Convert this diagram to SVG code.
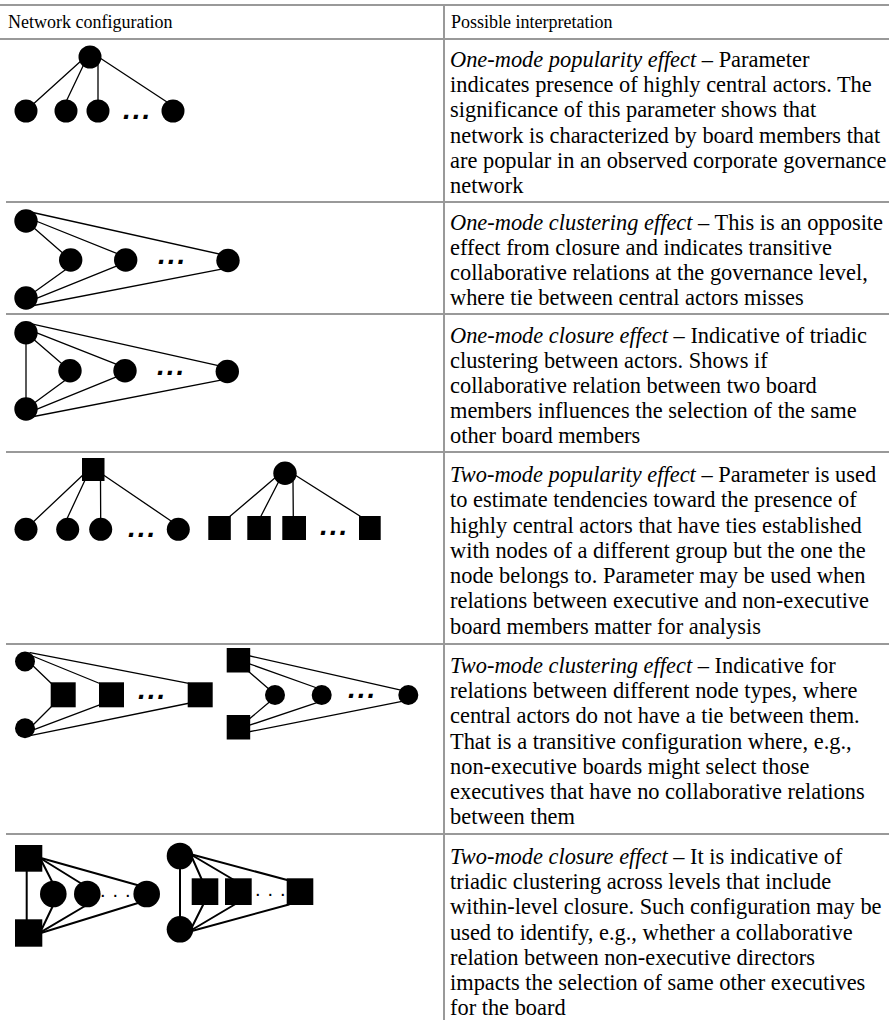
<svg xmlns="http://www.w3.org/2000/svg" width="889" height="1022" viewBox="0 0 889 1022">
  <style>
    .rule { stroke: #999; stroke-width: 2; fill: none; }
    .edge { stroke: #000; stroke-width: 1.3; fill: none; stroke-linecap: round; }
    .edge.thick { stroke-width: 2; }
    .node { fill: #000; }
    .head { font-family: "Liberation Serif", "Times New Roman", serif; font-size: 18px; fill: #000; }
    .txt { font-family: "Liberation Serif", "Times New Roman", serif; font-size: 22.4px; fill: #000; }
    .em { font-style: italic; }
    .dots { font-family: "Liberation Sans", Arial, sans-serif; font-size: 28px; font-weight: bold; font-style: italic; letter-spacing: 2px; fill: #000; }
    .dots.fine { font-size: 20px; font-weight: normal; font-style: normal; letter-spacing: 7px; }
  </style>

  <!-- table rules -->
  <g id="table">
    <line class="rule" x1="0" y1="5" x2="889" y2="5"/>
    <line class="rule" x1="0" y1="39" x2="889" y2="39"/>
    <line class="rule" x1="6" y1="202" x2="889" y2="202"/>
    <line class="rule" x1="6" y1="314" x2="889" y2="314"/>
    <line class="rule" x1="6" y1="452" x2="889" y2="452"/>
    <line class="rule" x1="6" y1="644" x2="889" y2="644"/>
    <line class="rule" x1="6" y1="834" x2="889" y2="834"/>
    <line class="rule" x1="444" y1="5" x2="444" y2="1020"/>
  </g>

  <g id="header" class="head">
    <text x="8" y="28">Network configuration</text>
    <text x="451" y="28">Possible interpretation</text>
  </g>

  <!-- row 1: one-mode popularity -->
  <g id="row1">
    <g id="row1-edges">
      <line class="edge" x1="82" y1="60" x2="30" y2="107"/>
      <line class="edge" x1="84" y1="64" x2="64" y2="106"/>
      <line class="edge" x1="98" y1="64" x2="98" y2="106"/>
      <line class="edge" x1="100" y1="58" x2="170" y2="104"/>
    </g>
    <g id="r1-hub"><circle class="node" cx="90" cy="57" r="11.5"/></g>
    <g id="r1-a"><circle class="node" cx="26" cy="111" r="11.5"/></g>
    <g id="r1-b"><circle class="node" cx="66" cy="111" r="11.5"/></g>
    <g id="r1-c"><circle class="node" cx="98" cy="111" r="11.5"/></g>
    <g id="r1-d"><circle class="node" cx="173" cy="111" r="11.5"/></g>
    <text class="dots" x="123" y="119">...</text>
    <g class="txt">
      <text x="450" y="67"><tspan class="em">One-mode popularity effect</tspan> – Parameter</text>
      <text x="450" y="92">indicates presence of highly central actors. The</text>
      <text x="450" y="117">significance of this parameter shows that</text>
      <text x="450" y="143">network is characterized by board members that</text>
      <text x="450" y="168">are popular in an observed corporate governance</text>
      <text x="450" y="193">network</text>
    </g>
  </g>

  <!-- row 2: one-mode clustering -->
  <g id="row2">
    <g id="row2-edges">
      <line class="edge" x1="26" y1="221" x2="70.7" y2="260"/>
      <line class="edge" x1="26" y1="217" x2="125.7" y2="257"/>
      <line class="edge" x1="26" y1="211" x2="228" y2="256"/>
      <line class="edge" x1="26" y1="298" x2="70.7" y2="266"/>
      <line class="edge" x1="26" y1="302.6" x2="125.7" y2="262.4"/>
      <line class="edge" x1="26" y1="307" x2="228" y2="267.8"/>
    </g>
    <g id="r2-top"><circle class="node" cx="26" cy="221" r="11.7"/></g>
    <g id="r2-bottom"><circle class="node" cx="26" cy="298" r="11.7"/></g>
    <g id="r2-m1"><circle class="node" cx="70.7" cy="260" r="11.7"/></g>
    <g id="r2-m2"><circle class="node" cx="125.7" cy="260" r="11.7"/></g>
    <g id="r2-end"><circle class="node" cx="228" cy="260.5" r="11.7"/></g>
    <text class="dots" x="158" y="264">...</text>
    <g class="txt">
      <text x="450" y="230"><tspan class="em">One-mode clustering effect</tspan> – This is an opposite</text>
      <text x="450" y="255">effect from closure and indicates transitive</text>
      <text x="450" y="280">collaborative relations at the governance level,</text>
      <text x="450" y="305">where tie between central actors misses</text>
    </g>
  </g>

  <!-- row 3: one-mode closure -->
  <g id="row3">
    <g id="row3-edges">
      <line class="edge" x1="26" y1="333" x2="26" y2="409"/>
      <line class="edge" x1="26" y1="332.7" x2="70" y2="370.7"/>
      <line class="edge" x1="26" y1="328.7" x2="125" y2="367.7"/>
      <line class="edge" x1="26" y1="322.7" x2="227.3" y2="367.7"/>
      <line class="edge" x1="26" y1="409" x2="70" y2="376.7"/>
      <line class="edge" x1="26" y1="413.6" x2="125" y2="373.4"/>
      <line class="edge" x1="26" y1="418" x2="227.3" y2="378.8"/>
    </g>
    <g id="r3-top"><circle class="node" cx="26" cy="332.7" r="11.7"/></g>
    <g id="r3-bottom"><circle class="node" cx="26" cy="409" r="11.7"/></g>
    <g id="r3-m1"><circle class="node" cx="70" cy="370.7" r="11.7"/></g>
    <g id="r3-m2"><circle class="node" cx="125" cy="370.7" r="11.7"/></g>
    <g id="r3-end"><circle class="node" cx="227.3" cy="371.5" r="11.7"/></g>
    <text class="dots" x="157" y="375">...</text>
    <g class="txt">
      <text x="450" y="343"><tspan class="em">One-mode closure effect</tspan> – Indicative of triadic</text>
      <text x="450" y="368">clustering between actors. Shows if</text>
      <text x="450" y="393">collaborative relation between two board</text>
      <text x="450" y="418">members influences the selection of the same</text>
      <text x="450" y="443">other board members</text>
    </g>
  </g>

  <!-- row 4: two-mode popularity -->
  <g id="row4">
    <g id="row4-edges">
      <line class="edge" x1="84" y1="474" x2="30" y2="525"/>
      <line class="edge" x1="86" y1="478" x2="65" y2="523"/>
      <line class="edge" x1="100.5" y1="478" x2="100.7" y2="522"/>
      <line class="edge" x1="102" y1="474" x2="174" y2="523"/>
      <line class="edge" x1="276" y1="477" x2="228" y2="518"/>
      <line class="edge" x1="279" y1="481" x2="260" y2="518"/>
      <line class="edge" x1="293" y1="481" x2="293.3" y2="518"/>
      <line class="edge" x1="295" y1="475" x2="363" y2="518"/>
    </g>
    <g id="r4-hub-sq"><rect class="node" x="82" y="458" width="22.5" height="23"/></g>
    <g id="r4-c1"><circle class="node" cx="26" cy="529.3" r="11.5"/></g>
    <g id="r4-c2"><circle class="node" cx="67.7" cy="529.3" r="11.5"/></g>
    <g id="r4-c3"><circle class="node" cx="100.7" cy="529.3" r="11.5"/></g>
    <g id="r4-c4"><circle class="node" cx="178.3" cy="529.3" r="11.5"/></g>
    <text class="dots" x="128" y="537">...</text>
    <g id="r4-hub-c"><circle class="node" cx="285" cy="473.3" r="11.7"/></g>
    <g id="r4-s1"><rect class="node" x="208.3" y="516" width="22.5" height="24"/></g>
    <g id="r4-s2"><rect class="node" x="247.3" y="516" width="23.5" height="24"/></g>
    <g id="r4-s3"><rect class="node" x="282.3" y="516" width="23.7" height="24"/></g>
    <g id="r4-s4"><rect class="node" x="359" y="516" width="21.7" height="24"/></g>
    <text class="dots" x="320" y="535">...</text>
    <g class="txt">
      <text x="450" y="482"><tspan class="em">Two-mode popularity effect</tspan> – Parameter is used</text>
      <text x="450" y="507">to estimate tendencies toward the presence of</text>
      <text x="450" y="533">highly central actors that have ties established</text>
      <text x="450" y="558">with nodes of a different group but the one the</text>
      <text x="450" y="583">node belongs to. Parameter may be used when</text>
      <text x="450" y="608">relations between executive and non-executive</text>
      <text x="450" y="634">board members matter for analysis</text>
    </g>
  </g>

  <!-- row 5: two-mode clustering -->
  <g id="row5">
    <g id="row5-edges">
      <line class="edge" x1="30" y1="663" x2="53" y2="685"/>
      <line class="edge" x1="30" y1="655" x2="101" y2="684"/>
      <line class="edge" x1="30" y1="652.6" x2="190" y2="683.6"/>
      <line class="edge" x1="30" y1="728" x2="53" y2="705"/>
      <line class="edge" x1="30" y1="731.2" x2="101" y2="704.3"/>
      <line class="edge" x1="30" y1="735.7" x2="190" y2="703"/>
      <line class="edge" x1="248" y1="671" x2="270" y2="690"/>
      <line class="edge" x1="248" y1="663.3" x2="317" y2="688"/>
      <line class="edge" x1="248" y1="655.5" x2="402" y2="690.4"/>
      <line class="edge" x1="248" y1="720" x2="270" y2="701.6"/>
      <line class="edge" x1="248" y1="725.7" x2="317" y2="702.7"/>
      <line class="edge" x1="248" y1="732" x2="402" y2="701.3"/>
    </g>
    <g id="r5-top-c"><circle class="node" cx="25" cy="661.5" r="10"/></g>
    <g id="r5-bottom-c"><circle class="node" cx="25" cy="728.3" r="10"/></g>
    <g id="r5-s1"><rect class="node" x="50.7" y="682.3" width="25" height="25"/></g>
    <g id="r5-s2"><rect class="node" x="99" y="682.3" width="25" height="25"/></g>
    <g id="r5-s3"><rect class="node" x="187.7" y="682.3" width="25" height="25"/></g>
    <text class="dots" x="138" y="699">...</text>
    <g id="r5-top-s"><rect class="node" x="226.7" y="648" width="23.5" height="24.5"/></g>
    <g id="r5-bottom-s"><rect class="node" x="226.7" y="715" width="23.5" height="24.5"/></g>
    <g id="r5-c1"><circle class="node" cx="275" cy="695" r="10"/></g>
    <g id="r5-c2"><circle class="node" cx="321.7" cy="695" r="10"/></g>
    <g id="r5-c3"><circle class="node" cx="408.3" cy="695" r="10"/></g>
    <text class="dots" x="348" y="698">...</text>
    <g class="txt">
      <text x="450" y="673"><tspan class="em">Two-mode clustering effect</tspan> – Indicative for</text>
      <text x="450" y="698">relations between different node types, where</text>
      <text x="450" y="723">central actors do not have a tie between them.</text>
      <text x="450" y="749">That is a transitive configuration where, e.g.,</text>
      <text x="450" y="774">non-executive boards might select those</text>
      <text x="450" y="799">executives that have no collaborative relations</text>
      <text x="450" y="824">between them</text>
    </g>
  </g>

  <!-- row 6: two-mode closure -->
  <g id="row6">
    <g id="row6-edges">
      <line class="edge thick" x1="26.7" y1="858" x2="26.7" y2="933"/>
      <line class="edge thick" x1="40" y1="858" x2="53.3" y2="884"/>
      <line class="edge thick" x1="40" y1="858" x2="82" y2="884"/>
      <line class="edge thick" x1="40" y1="857.7" x2="138" y2="885.3"/>
      <line class="edge thick" x1="40" y1="932.7" x2="53.3" y2="905"/>
      <line class="edge thick" x1="40" y1="932.7" x2="85" y2="906"/>
      <line class="edge thick" x1="40" y1="933.3" x2="138" y2="903"/>
      <line class="edge thick" x1="180" y1="856" x2="180" y2="929.3"/>
      <line class="edge thick" x1="190" y1="853" x2="202" y2="880"/>
      <line class="edge thick" x1="190" y1="854" x2="234" y2="880"/>
      <line class="edge thick" x1="190" y1="854" x2="289" y2="880.5"/>
      <line class="edge thick" x1="190" y1="931" x2="203.5" y2="904"/>
      <line class="edge thick" x1="190" y1="931" x2="235.5" y2="904"/>
      <line class="edge thick" x1="190" y1="931.5" x2="289" y2="904.5"/>
    </g>
    <g id="r6-top-s"><rect class="node" x="15" y="845" width="27.3" height="26.7"/></g>
    <g id="r6-bottom-s"><rect class="node" x="15" y="919.3" width="27.3" height="27.4"/></g>
    <g id="r6-c1"><circle class="node" cx="53.3" cy="894" r="13.3"/></g>
    <g id="r6-c2"><circle class="node" cx="87.3" cy="894" r="13.3"/></g>
    <g id="r6-c3"><circle class="node" cx="146.7" cy="894" r="13.3"/></g>
    <text class="dots fine" x="100" y="897">...</text>
    <g id="r6-top-c"><circle class="node" cx="180" cy="856" r="13.3"/></g>
    <g id="r6-bottom-c"><circle class="node" cx="180" cy="929.3" r="13.3"/></g>
    <g id="r6-s1"><rect class="node" x="191.7" y="878.3" width="26.6" height="26.7"/></g>
    <g id="r6-s2"><rect class="node" x="225" y="878.3" width="26.7" height="26.7"/></g>
    <g id="r6-s3"><rect class="node" x="286.7" y="878.3" width="26.6" height="26.7"/></g>
    <text class="dots fine" x="255" y="896">...</text>
    <g class="txt">
      <text x="450" y="864"><tspan class="em">Two-mode closure effect</tspan> – It is indicative of</text>
      <text x="450" y="889">triadic clustering across levels that include</text>
      <text x="450" y="914">within-level closure. Such configuration may be</text>
      <text x="450" y="940">used to identify, e.g., whether a collaborative</text>
      <text x="450" y="965">relation between non-executive directors</text>
      <text x="450" y="990">impacts the selection of same other executives</text>
      <text x="450" y="1015">for the board</text>
    </g>
  </g>
</svg>
